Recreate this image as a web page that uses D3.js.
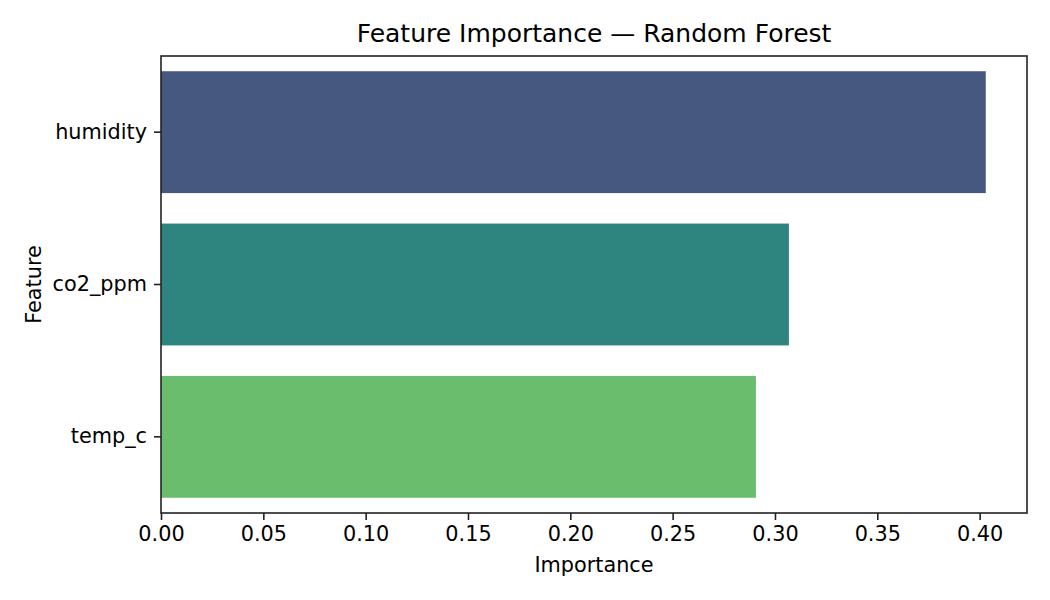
<!DOCTYPE html>
<html>
<head>
<meta charset="utf-8">
<script src="https://cdn.jsdelivr.net/npm/d3@7"></script>
<style>
  body { margin: 0; background: #fff; }
  text { font-family: "DejaVu Sans", sans-serif; fill: #000; }
</style>
</head>
<body>
<svg id="chart" width="1050" height="600"></svg>
<script>
// Data
const features = ["humidity", "co2_ppm", "temp_c"];
const importances = [0.403, 0.3068, 0.2907];
const barColors = ["#465780", "#2e8580", "#6bbd6e"];
const xTicks = [0, 0.05, 0.10, 0.15, 0.20, 0.25, 0.30, 0.35, 0.40];

const width = 1050, height = 600;
const margin = {top: 56, right: 23, bottom: 87, left: 161};
const plotW = width - margin.left - margin.right,
      plotH = height - margin.top - margin.bottom;

const svg = d3.select("#chart");
const g = svg.append("g")
    .attr("transform", `translate(${margin.left},${margin.top})`);

// matplotlib pads the max by 5%
const x = d3.scaleLinear()
    .domain([0, d3.max(importances) * 1.05])
    .range([0, plotW]);

const y = d3.scaleBand()
    .domain(features)
    .range([0, plotH])
    .paddingInner(0.2)
    .paddingOuter(0.1);

// Bars
g.selectAll(".bar")
    .data(features)
    .join("rect")
    .attr("class", "bar")
    .attr("x", x(0))
    .attr("y", d => y(d))
    .attr("width", (d, i) => x(importances[i]) - x(0))
    .attr("height", y.bandwidth())
    .attr("fill", (d, i) => barColors[i]);

// Axes
const xAxis = g.append("g")
    .attr("transform", `translate(0,${plotH})`)
    .call(d3.axisBottom(x).tickValues(xTicks).tickFormat(d3.format(".2f"))
        .tickSize(7).tickPadding(6).tickSizeOuter(0));

const yAxis = g.append("g")
    .call(d3.axisLeft(y).tickSize(7).tickPadding(7).tickSizeOuter(0));

[xAxis, yAxis].forEach(a => {
    a.select(".domain").remove();
    a.selectAll(".tick line").attr("stroke", "#222").attr("stroke-width", 1.6);
    a.selectAll(".tick text").style("font-size", "20.8px").style("fill", "#000");
});

// Frame (all four spines)
g.append("rect")
    .attr("width", plotW)
    .attr("height", plotH)
    .attr("fill", "none")
    .attr("stroke", "#222")
    .attr("stroke-width", 1.6);

// Title and axis labels
svg.append("text")
    .attr("x", margin.left + plotW / 2)
    .attr("y", 42)
    .attr("text-anchor", "middle")
    .style("font-size", "25px")
    .text("Feature Importance \u2014 Random Forest");

svg.append("text")
    .attr("x", margin.left + plotW / 2)
    .attr("y", 572)
    .attr("text-anchor", "middle")
    .style("font-size", "20.8px")
    .text("Importance");

svg.append("text")
    .attr("transform", `translate(41,${margin.top + plotH / 2}) rotate(-90)`)
    .attr("text-anchor", "middle")
    .style("font-size", "20.8px")
    .text("Feature");
</script>
</body>
</html>
